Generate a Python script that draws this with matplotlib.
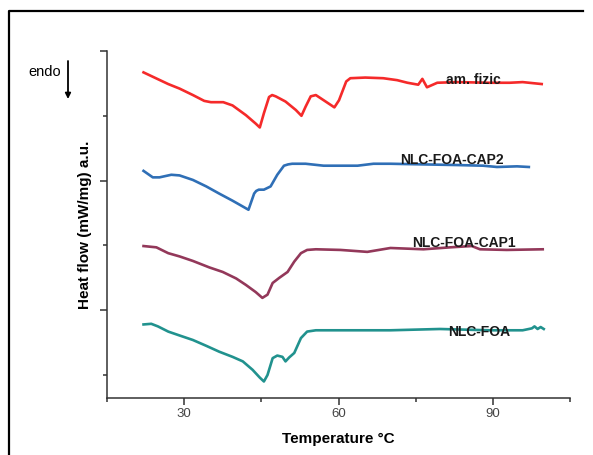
import matplotlib
matplotlib.use('Agg')
import matplotlib.pyplot as plt
from matplotlib.lines import Line2D

plt.rcParams['font.family'] = ['Liberation Sans', 'DejaVu Sans']

# DSC curves, temperature (°C) vs heat flow (a.u., stacked)
t_fizic = [22.1, 26.9, 29.1, 31.7, 33.9, 35.2, 37.6, 39.4, 42.0, 43.9, 44.7, 45.5,
           46.5, 47.1, 47.8, 49.7, 51.7, 52.8, 53.6, 54.6, 55.6, 57.5, 59.2, 60.1,
           61.5, 62.3, 65.2, 68.7, 71.4, 73.4, 75.5, 76.3, 77.2, 79.2, 83.0, 89.4,
           93.3, 95.8, 99.5]
hf_fizic = [4.67, 4.49, 4.42, 4.32, 4.23, 4.21, 4.21, 4.16, 4.01, 3.88, 3.82, 4.04,
            4.29, 4.32, 4.30, 4.22, 4.09, 4.00, 4.14, 4.30, 4.32, 4.22, 4.13, 4.24,
            4.53, 4.58, 4.59, 4.58, 4.55, 4.51, 4.48, 4.57, 4.44, 4.51, 4.52, 4.51,
            4.51, 4.52, 4.49]

t_cap2 = [22.1, 23.9, 25.2, 27.5, 29.1, 31.7, 34.3, 36.8, 39.4, 41.4, 42.5, 43.6,
          44.0, 44.5, 45.5, 46.8, 48.1, 49.4, 50.2, 51.0, 53.6, 57.1, 63.7, 66.8,
          70.1, 76.5, 83.0, 88.1, 90.8, 94.7, 97.0]
hf_cap2 = [3.15, 3.05, 3.05, 3.09, 3.08, 3.01, 2.91, 2.80, 2.69, 2.60, 2.55, 2.80,
           2.84, 2.86, 2.86, 2.91, 3.09, 3.23, 3.25, 3.26, 3.26, 3.23, 3.23, 3.26,
           3.26, 3.25, 3.24, 3.23, 3.21, 3.22, 3.21]

t_cap1 = [22.1, 24.6, 26.9, 29.1, 31.7, 34.9, 37.5, 40.1, 42.0, 43.9, 45.2, 46.2,
          47.2, 48.5, 50.1, 51.4, 52.7, 53.9, 55.6, 60.4, 65.6, 70.1, 76.5, 81.7,
          85.9, 87.5, 92.7, 99.7]
hf_cap1 = [1.99, 1.97, 1.88, 1.83, 1.76, 1.66, 1.59, 1.49, 1.39, 1.28, 1.19, 1.24,
           1.42, 1.50, 1.59, 1.75, 1.88, 1.93, 1.94, 1.93, 1.90, 1.96, 1.94, 1.97,
           1.99, 1.94, 1.93, 1.94]

t_foa = [22.1, 23.6, 24.9, 26.9, 29.1, 31.7, 34.3, 36.8, 39.4, 41.4, 43.3, 44.7,
         45.5, 46.2, 47.2, 48.1, 49.1, 49.7, 50.4, 51.4, 52.7, 53.9, 55.6, 60.4,
         70.1, 79.7, 89.4, 95.8, 97.6, 98.1, 98.7, 99.3, 99.9]
hf_foa = [0.78, 0.79, 0.75, 0.67, 0.61, 0.54, 0.45, 0.36, 0.28, 0.21, 0.08, -0.04,
          -0.10, 0.00, 0.26, 0.30, 0.28, 0.21, 0.27, 0.34, 0.57, 0.67, 0.69, 0.69,
          0.69, 0.71, 0.69, 0.69, 0.72, 0.75, 0.71, 0.74, 0.71]

labels = ['am. fizic', 'NLC-FOA-CAP2', 'NLC-FOA-CAP1', 'NLC-FOA']
label_x = [86.3, 82.1, 84.4, 87.3]
label_y = [4.55, 3.32, 2.04, 0.66]

fig = plt.figure(figsize=(5.93, 4.55), dpi=100)
ax = fig.add_axes([107 / 593, 57 / 455, 463 / 593, 347 / 455])

curves = [(t_fizic, hf_fizic, '#f52a2a'), (t_cap2, hf_cap2, '#2f6fb6'),
          (t_cap1, hf_cap1, '#93385a'), (t_foa, hf_foa, '#21928e')]
for t, hf, col in curves:
    ax.plot(t, hf, color=col, lw=1.9, solid_joinstyle='round')

for lab, x, y in zip(labels, label_x, label_y):
    ax.text(x, y, lab, fontsize=10, fontweight='bold', color='#1a1a1a',
            ha='center', va='center')

ax.set_xlim(15, 105)
ax.set_ylim(-0.355, 5.0)
ax.set_xticks([30, 60, 90])
ax.set_xticks([15, 45, 75, 105], minor=True)
ax.set_yticks([1, 3, 5])
ax.set_yticks([0, 2, 4], minor=True)
ax.set_yticklabels([])

for side in ['top', 'right']:
    ax.spines[side].set_visible(False)
for side in ['left', 'bottom']:
    ax.spines[side].set_color('#333333')
    ax.spines[side].set_linewidth(1.1)
ax.tick_params(which='major', length=5, width=1.1, color='#333333',
               labelsize=9.5, labelcolor='#444444', pad=2)
ax.tick_params(which='minor', length=3, width=1.1, color='#333333')

ax.set_xlabel('Temperature °C', fontsize=11, fontweight='bold', va='center')
ax.xaxis.set_label_coords(0.5, -0.118)
ax.set_ylabel('Heat flow (mW/mg) a.u.', fontsize=11, fontweight='bold', va='center')
ax.yaxis.set_label_coords(-0.048, 0.5)

# endo arrow
fig.text(45 / 593, 1 - 72 / 455, 'endo', fontsize=10.5, ha='center', va='center')
ax.annotate('', xy=(68 / 593, 1 - 99 / 455), xytext=(68 / 593, 1 - 61 / 455),
            xycoords='figure fraction', textcoords='figure fraction',
            arrowprops=dict(arrowstyle='-|>', color='black', lw=1.3,
                            mutation_scale=8, shrinkA=0, shrinkB=0))

# frame around the figure (top and left edges)
fig.add_artist(Line2D([9 / 593, 9 / 593, 583 / 593], [0, 1 - 11 / 455, 1 - 11 / 455],
                      transform=fig.transFigure, color='black', lw=1.6))

fig.savefig('out.png', dpi=100)
